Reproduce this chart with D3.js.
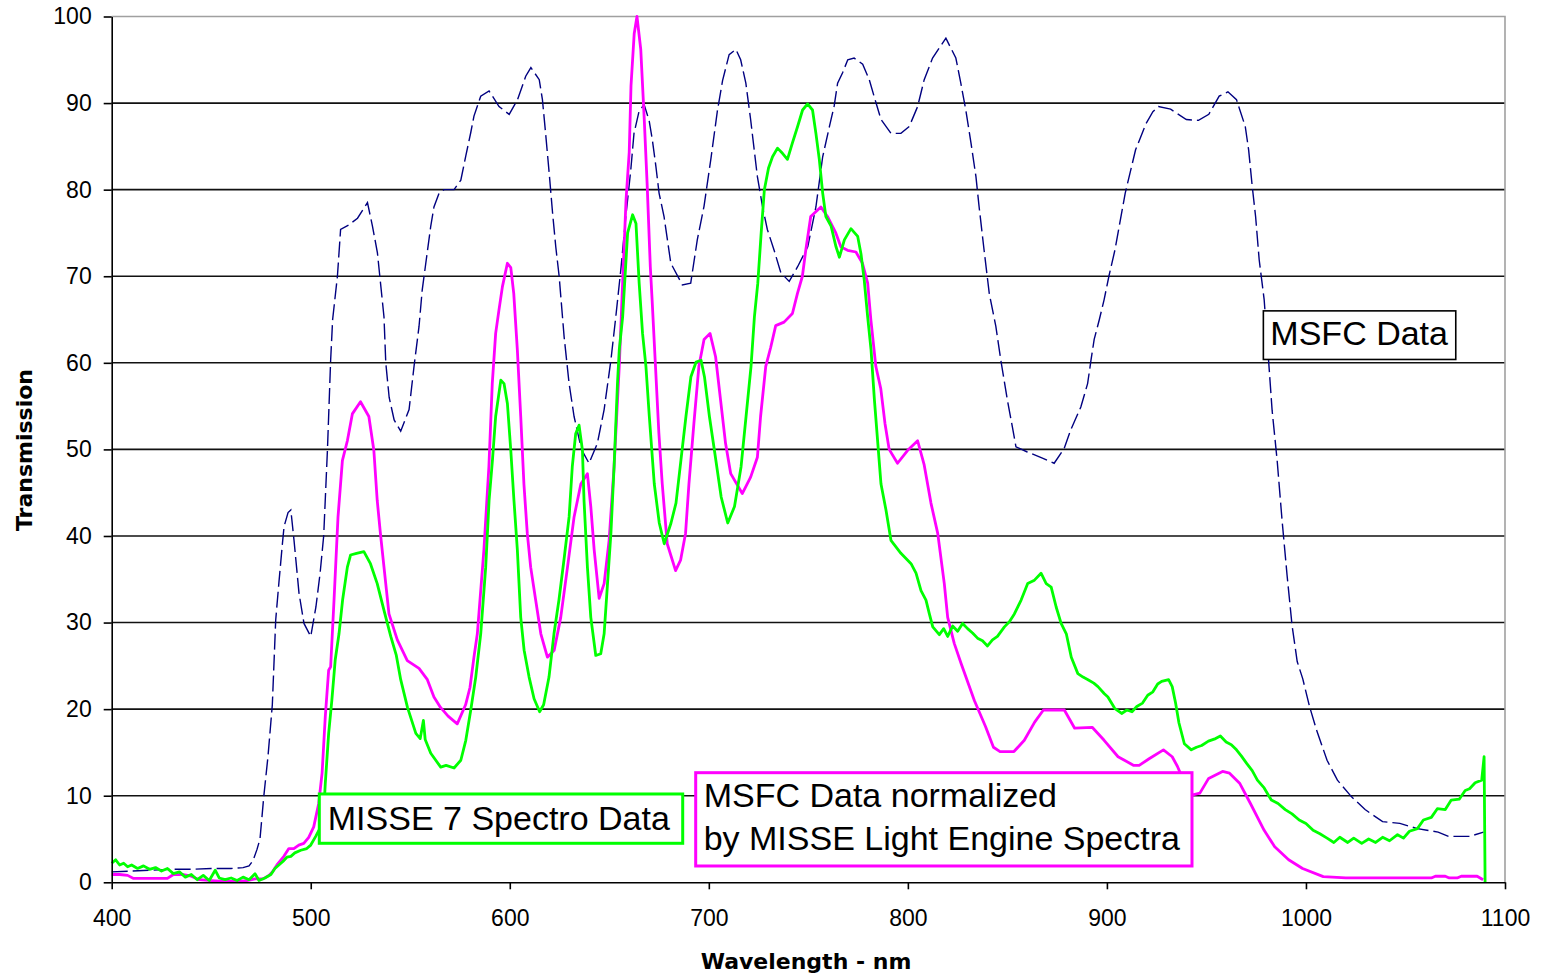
<!DOCTYPE html>
<html>
<head>
<meta charset="utf-8">
<script src="https://cdn.jsdelivr.net/npm/d3@7"></script>
<style>
  body { margin: 0; background: #ffffff; }
  svg { display: block; }
  .axis text { font-family: "Liberation Sans", Arial, sans-serif; font-size: 23px; fill: #000; }
  .axis path, .axis line { stroke: #000; stroke-width: 1.6; }
  .title { font-family: "DejaVu Sans", Verdana, sans-serif; font-size: 22px; font-weight: bold; fill: #000; }
  .note { font-family: "Liberation Sans", Arial, sans-serif; font-size: 34px; fill: #000; }
</style>
</head>
<body>
<div id="chart"></div>
<script>
// wavelength (nm), transmission (%)
var msfcData = [
  [400,1.2],[410,1.3],[420,1.4],[430,1.5],[440,1.5],[450,1.6],[460,1.6],[466,1.7],[469,1.9],[471,2.5],
  [473,3.8],[474.5,5],[476.4,9.9],[478.5,14.5],[480.7,20.5],[482.4,30.3],[484,34.6],[485.8,39.2],[486.6,41.1],[488.6,42.7],
  [490,43],[491.6,39.5],[494.1,33.4],[496.6,29.9],[500,28.4],[502.6,31.8],[504.7,35.7],[506.5,40],[508.4,50],[510,60.3],
  [511,65],[513.4,70],[515,75.4],[519,75.9],[523.5,76.7],[528.5,78.5],[531,75.8],[533.5,72.7],[534.7,70],[536.8,65.3],
  [537.7,60],[539.4,56],[541.9,53.4],[545.2,52.1],[549.4,54.6],[551.9,59.6],[554.4,64.2],[556,68.4],[557.8,71.5],[560.3,75.8],
  [561.9,78],[564.5,79.6],[567,80],[572,80],[575.4,81.1],[577.9,83.9],[580.4,86.6],[582,88.5],[585.4,90.8],[589.6,91.4],
  [594.6,89.6],[599.7,88.7],[603.9,90.4],[608,93.1],[610.6,94.1],[614.8,92.7],[616.4,90.4],[618,86.5],[619.8,81.9],[621.5,77.3],
  [623.1,73.4],[624.8,70],[627.3,63],[629.8,57.6],[632.3,53.8],[636,50],[639.8,48.4],[644,50.7],[647.4,54.6],[650.8,60.3],
  [653.3,65.4],[655.8,70.8],[658.3,76.9],[660.8,82.3],[662.4,86.5],[665,89.1],[667.5,89.8],[670,88],[671.6,85.8],[673.4,82.7],
  [675,79.6],[677.5,76.9],[679.2,74.2],[680.9,71.5],[686.7,69],[690.9,69.2],[694.2,74.2],[697.6,78.1],[701,83.5],[704.3,89.1],
  [706.9,92.6],[710.2,95.6],[713.6,96.2],[716,95],[718.6,92.3],[721,88.1],[722.8,84.6],[724.4,81.5],[727,78],[729.4,75.4],
  [732.8,73],[736.2,70.4],[740.4,69.4],[744.6,71.1],[749.7,73.4],[753.8,78],[757.2,83.8],[760.6,87.3],[763,89.7],[764.7,92.3],
  [767.2,93.5],[769.8,95],[773,95.2],[777.3,94.5],[780.6,92.7],[783,90.8],[786.5,88.1],[791.5,86.5],[796.5,86.5],[800.7,87.3],
  [804.9,89.6],[808.2,92.7],[812.4,95.2],[819.1,97.5],[824.1,95.2],[826.6,92.3],[829.1,89.2],[831.7,85.4],[834.2,81.5],[835.8,78],
  [838.3,73],[840.9,68],[844.2,64.2],[846.7,60.3],[850,55.7],[852.5,52.6],[854.3,50.3],[860,49.7],[867.6,49],[873.5,48.4],
  [878.5,50.1],[881.9,52.3],[886.9,54.9],[890.3,57.6],[892,60.3],[893.6,62.7],[896.2,65],[898.6,67.3],[901,70],[904,73],
  [909.2,79.6],[914.4,84.6],[919.6,87.6],[923.1,89],[925.9,89.6],[932,89.3],[939.9,88.1],[946,88],[951.2,88.7],[956.4,90.8],
  [960.8,91.3],[965.1,90.4],[969.5,87.3],[971.2,84.6],[973,80.4],[974.7,76.9],[976.5,71.9],[979,67.3],[981,61],[983,54.5],
  [985.5,48.8],[988,41.8],[990.5,35.5],[993,29.7],[995.6,25.5],[998.4,23.5],[1001.8,20.3],[1005.3,17.6],[1010.6,14.1],[1015.8,11.8],
  [1022.8,9.9],[1029.7,8.4],[1038.5,7],[1047.2,6.8],[1056,6.2],[1066.4,5.8],[1071.7,5.3],[1082.2,5.3],[1089.2,5.8]
];

var normalizedData = [
  [400,0.9],[404,0.9],[408,0.8],[411,0.45],[420,0.45],[428,0.45],[431,0.9],[436,0.9],[440,0.7],[444,0.3],
  [450,0.2],[456,0.1],[462,0.1],[468,0.2],[472,0.4],[476,0.4],[479,0.8],[480.7,1.2],[483,2],[486.5,3],
  [489,3.9],[491.5,3.9],[494,4.3],[496.5,4.5],[499,5.2],[501.5,6.4],[504,9.1],[505.7,12.6],[507.3,19.1],[509,24.5],
  [510,24.9],[511.7,32.6],[513.7,42.2],[515.9,48.7],[518.4,51],[520.9,54.1],[525,55.5],[529.2,53.8],[531.7,49.9],[533.4,44.1],
  [535,40.3],[536.8,36.4],[539.3,31],[543.5,28],[548.5,25.6],[554.4,24.7],[558.6,23.4],[561.9,21.4],[565.2,20.2],[569,19.2],
  [573.6,18.3],[577.8,20.5],[580,22.5],[582,26],[583.7,28.7],[587,38.4],[589.5,48],[591.2,57.6],[592.9,63.4],[594.5,66],
  [596.3,68.8],[598.8,71.5],[600.5,71],[602,68],[603.8,61.5],[605.5,53.8],[607.1,46],[608.8,40.3],[610.5,36.4],[613,32.6],
  [615.6,28.7],[618.9,26],[622.3,26.8],[625.6,30.6],[629,36.4],[632.3,42.2],[635.7,46],[639,47.2],[640.7,43.4],[642.4,38.4],
  [644.9,32.8],[647.4,34.5],[649.9,39.5],[652.4,48],[655,59.6],[656.7,69.2],[658.4,78.8],[660,84.3],[660.9,92],[662.5,98],
  [663.9,100],[665.8,96.2],[667.5,88.4],[669,80.7],[670.6,71.1],[671.5,67.3],[673.2,59.6],[674.9,51.9],[676.6,46],[679.1,39.1],
  [683.3,36],[685.8,37.2],[688.3,40.3],[690,46],[692.5,53],[695,59.6],[697.6,62.7],[700.6,63.4],[703.4,60.7],[705.9,55.7],
  [708.4,50.7],[711,47.2],[716.8,44.9],[721,46.8],[724.4,49.1],[726,53.8],[728.6,59.6],[731.1,61.8],[733.6,64.3],[737.8,64.7],
  [742,65.7],[744.5,68],[747,70],[748.7,73],[751.2,76.9],[756.3,78],[759.6,76.9],[763.8,75],[766.3,73.4],[769.7,73],
  [773.9,72.8],[777.2,71.5],[779.8,69.2],[781.4,65],[783.9,59.6],[786.4,57],[788.5,53],[790.6,50],[794.8,48.4],[799.9,49.9],
  [804.9,51],[808.2,48.2],[811.6,43.8],[815,40.3],[818.3,34.5],[820,30.6],[823.3,27.6],[826.7,25.3],[833.4,21],[839,18],
  [843,15.6],[846.3,15.1],[853.3,15.1],[858.5,16.4],[863.7,18.5],[868.1,19.9],[878.6,19.9],[883.8,17.8],[892.6,17.9],[898.6,16.4],
  [905.6,14.5],[913.5,13.5],[916.2,13.5],[921.4,14.3],[928.4,15.3],[932.8,14.5],[935.4,13.4],[938,12],[941,10.4],[943.2,10.1],
  [946.7,10.3],[951.1,12],[958.1,12.8],[961.6,12.6],[966.8,11.4],[972.1,9.1],[979,6],[984.3,4.1],[991.3,2.6],[998.3,1.6],
  [1008.7,0.65],[1020,0.5],[1033,0.5],[1050,0.5],[1063,0.5],[1065,0.7],[1070,0.7],[1072,0.5],[1076,0.5],[1078,0.7],
  [1086,0.7],[1089,0.3]
];

var spectroData = [
  [400,2.2],[402,2.6],[404,2],[406,2.2],[408,1.8],[410,2],[413,1.6],[416,1.9],[419,1.5],[422,1.7],
  [425,1.3],[428,1.6],[431,1],[434,1.2],[437,0.6],[440,0.9],[443,0.3],[446,0.8],[449,0.2],[452,1.4],
  [454,0.5],[457,0.3],[460,0.5],[463,0.2],[466,0.6],[469,0.3],[472,1],[474,0.2],[477,0.5],[480,0.9],
  [482,1.6],[484,2],[486,2.4],[488,2.9],[490,3],[492,3.4],[495,3.7],[498,3.9],[500,4.3],[502.5,5.3],
  [505,6.4],[506.5,8],[507.3,11.4],[509,17.2],[510.6,21],[512.3,25.7],[514.2,28.7],[516,32.6],[518.4,36.4],[520,37.8],
  [523,38],[526.7,38.2],[530,36.8],[533.4,34.5],[536.8,31.4],[540.2,28.4],[543,26.2],[545.2,23.4],[548.6,20.2],[552.8,17.2],
  [555,16.6],[556.6,18.7],[557.5,16.5],[560.3,14.9],[565.3,13.3],[568,13.5],[572,13.2],[575.4,14.1],[577.9,16.4],[580.4,19.9],
  [582.9,23.7],[585.4,28.7],[587.9,36.4],[589.6,44.1],[591.3,48.8],[592.9,53.8],[595.5,58],[597.1,57.6],[598.8,55.3],[600.5,49.9],
  [602.1,44.1],[603.8,38.4],[605.5,30.6],[607.2,26.8],[609.7,23.7],[612.2,21.2],[615,19.7],[617,20.5],[619.7,23.7],[622.2,28.7],
  [624.7,32.6],[627.2,37.2],[629.8,42.2],[631.4,48],[633.1,51.8],[634.8,52.8],[636.5,49.9],[637.3,44.1],[639,36.4],[640.7,30.6],
  [643.2,26.2],[645.7,26.4],[647.4,28.7],[649.1,34.5],[650.8,40.3],[652.4,48],[654.1,57.6],[655,61.5],[656.7,65.3],[659.2,75],
  [661.7,77.1],[663.4,76.1],[665,69.2],[666.7,63.4],[668.4,59.6],[670.1,53.8],[672.6,46],[675.1,41.5],[677.6,39.1],[681,41.5],
  [683.5,43.8],[686,48.8],[688.5,53.8],[691,58.4],[693.6,60.1],[696.1,60.3],[697.8,58.4],[700.3,53.8],[702.8,49.9],[706.2,44.5],
  [709.5,41.5],[712.9,43.4],[716.2,48],[718.7,53.8],[721.2,59.6],[722.9,65.3],[724.6,69.2],[726.3,75],[727.9,80],[730,82.5],
  [732,83.8],[734.5,84.8],[737,84.2],[739.5,83.5],[742,85.4],[744.6,87.3],[747.1,89.2],[749.6,89.9],[752.1,89.2],[753.8,86.5],
  [755.5,83.5],[757.2,79.6],[758.8,76.9],[761.4,75.8],[763.9,73.4],[765.6,72.2],[768.1,74.2],[771.4,75.5],[774.8,74.6],[776.5,72.5],
  [778.1,69.5],[779.8,65.3],[781.5,61.5],[783.2,55.7],[784.9,50.7],[786.5,46],[789,43],[791.5,39.5],[796.5,38],[801.6,36.8],
  [804.1,35.7],[806.6,33.7],[809.1,32.6],[810.8,31],[812.5,29.5],[815.8,28.6],[818,29.3],[820,28.4],[822.5,29.6],[825,29],
  [827.5,29.9],[830,29.3],[832.5,28.8],[835,28.2],[837.5,27.9],[840,27.3],[842.5,28],[845,28.4],[848.5,29.5],[851,30.1],
  [853.5,31],[856.9,32.6],[860.2,34.5],[863.6,34.9],[866.9,35.7],[869.5,34.5],[872,34.1],[874.5,31.8],[877,29.9],[879.6,28.7],
  [882.1,26],[885.4,24.1],[888,23.7],[890.5,23.4],[893.4,23],[895.5,22.6],[898.6,21.8],[900.5,21.4],[903.9,20.1],[907.4,19.5],
  [910,19.9],[912.6,19.7],[915,20.3],[917.9,20.7],[920.5,21.6],[923.1,22],[925.5,22.9],[927.5,23.2],[931,23.4],[932.8,22.6],
  [934.5,20.7],[936.2,18.4],[938.9,16],[942.4,15.3],[945,15.6],[947.6,15.8],[951,16.3],[954.6,16.6],[957,16.9],[959.9,16.2],
  [962.5,15.9],[965.1,15.3],[967.5,14.6],[970.3,13.7],[973,12.9],[975.6,11.8],[979,10.9],[982.6,9.5],[986,9.1],[989.6,8.4],
  [993,7.9],[996.6,7.2],[1000,6.8],[1003.6,6],[1007,5.6],[1010.6,5.1],[1014,4.6],[1017,5.2],[1021,4.6],[1024,5.1],
  [1028,4.5],[1031.5,5],[1035,4.6],[1038.5,5.2],[1042,4.8],[1046,5.5],[1049,5.1],[1052,5.9],[1056,6.2],[1059,7.2],
  [1063,7.5],[1066,8.5],[1070,8.4],[1073,9.5],[1077,9.6],[1080,10.6],[1082.2,10.8],[1085,11.5],[1088.3,11.8],[1089.5,14.5],
  [1090,0]
];

var xTicks = [400, 500, 600, 700, 800, 900, 1000, 1100];
var yTicks = [0, 10, 20, 30, 40, 50, 60, 70, 80, 90, 100];
var gridValues = [10, 20, 30, 40, 50, 60, 70, 80, 90];

var width = 1542, height = 975;
var margin = {left: 111.7, right: 37, top: 16.5, bottom: 92.7};

var x_scale = d3.scaleLinear()
  .domain([400, 1100])
  .range([margin.left, width - margin.right]);
var y_scale = d3.scaleLinear()
  .domain([0, 100])
  .range([height - margin.bottom, margin.top]);

var svg = d3.select("#chart").append("svg")
  .attr("width", width)
  .attr("height", height);

// grid
svg.append("g").attr("class", "grid")
  .selectAll("line")
  .data(gridValues)
  .enter()
  .append("line")
  .attr("x1", x_scale(400))
  .attr("x2", x_scale(1100))
  .attr("y1", function(d) { return y_scale(d); })
  .attr("y2", function(d) { return y_scale(d); })
  .attr("stroke", "#111")
  .attr("stroke-width", 1.6);

// top / right border of plot area
svg.append("path")
  .attr("d", "M" + x_scale(400) + "," + y_scale(100) + "H" + x_scale(1100) + "V" + y_scale(0))
  .attr("fill", "none")
  .attr("stroke", "#a0a0a0")
  .attr("stroke-width", 1.6);

var line = d3.line()
  .x(function(d) { return x_scale(d[0]); })
  .y(function(d) { return y_scale(d[1]); });

svg.append("path")
  .datum(msfcData)
  .attr("d", line)
  .attr("fill", "none")
  .attr("stroke", "#000080")
  .attr("stroke-width", 1.4)
  .attr("stroke-dasharray", "16,5");

svg.append("path")
  .datum(normalizedData)
  .attr("d", line)
  .attr("fill", "none")
  .attr("stroke", "#ff00ff")
  .attr("stroke-width", 2.8)
  .attr("stroke-linejoin", "round");

svg.append("path")
  .datum(spectroData)
  .attr("d", line)
  .attr("fill", "none")
  .attr("stroke", "#00ff00")
  .attr("stroke-width", 2.8)
  .attr("stroke-linejoin", "round");

// axes
var xAxis = d3.axisBottom(x_scale)
  .tickValues(xTicks)
  .tickSize(7)
  .tickSizeOuter(0)
  .tickPadding(20)
  .tickFormat(d3.format("d"));
svg.append("g")
  .attr("class", "axis")
  .attr("transform", "translate(0," + y_scale(0) + ")")
  .call(xAxis);

var yAxis = d3.axisLeft(y_scale)
  .tickValues(yTicks)
  .tickSize(8)
  .tickSizeOuter(0)
  .tickPadding(12)
  .tickFormat(d3.format("d"));
svg.append("g")
  .attr("class", "axis")
  .attr("transform", "translate(" + x_scale(400) + ",0)")
  .call(yAxis);

svg.append("text")
  .attr("class", "title")
  .attr("x", 806)
  .attr("y", 969)
  .attr("text-anchor", "middle")
  .text("Wavelength - nm");

svg.append("text")
  .attr("class", "title")
  .attr("transform", "translate(31.5,450) rotate(-90)")
  .attr("text-anchor", "middle")
  .text("Transmission");

// labels in boxes, anchored at (nm, transmission) of the top-left corner
var notes = [
  {nm: 978.6, val: 66.0, w: 192.4, h: 48.6, color: "#000000", sw: 1.6, lines: ["MSFC Data"], dx: 7, dy: [34.3]},
  {nm: 504.3, val: 10.2, w: 363.4, h: 49.3, color: "#00ff00", sw: 3, lines: ["MISSE 7 Spectro Data"], dx: 8.5, dy: [36]},
  {nm: 693.4, val: 12.66, w: 496.3, h: 93.3, color: "#ff00ff", sw: 3, lines: ["MSFC Data normalized", "by MISSE Light Engine Spectra"], dx: 8, dy: [34, 77.3]}
];

var note_g = svg.selectAll("g.note")
  .data(notes)
  .enter()
  .append("g")
  .attr("class", "note_g")
  .attr("transform", function(d) { return "translate(" + x_scale(d.nm) + "," + y_scale(d.val) + ")"; });

note_g.append("rect")
  .attr("width", function(d) { return d.w; })
  .attr("height", function(d) { return d.h; })
  .attr("fill", "#ffffff")
  .attr("stroke", function(d) { return d.color; })
  .attr("stroke-width", function(d) { return d.sw; });

note_g.each(function(d) {
  var g = d3.select(this);
  for(var i = 0; i < d.lines.length; i++) {
    g.append("text")
      .attr("class", "note")
      .attr("x", d.dx)
      .attr("y", d.dy[i])
      .text(d.lines[i]);
  }
});
</script>
</body>
</html>
